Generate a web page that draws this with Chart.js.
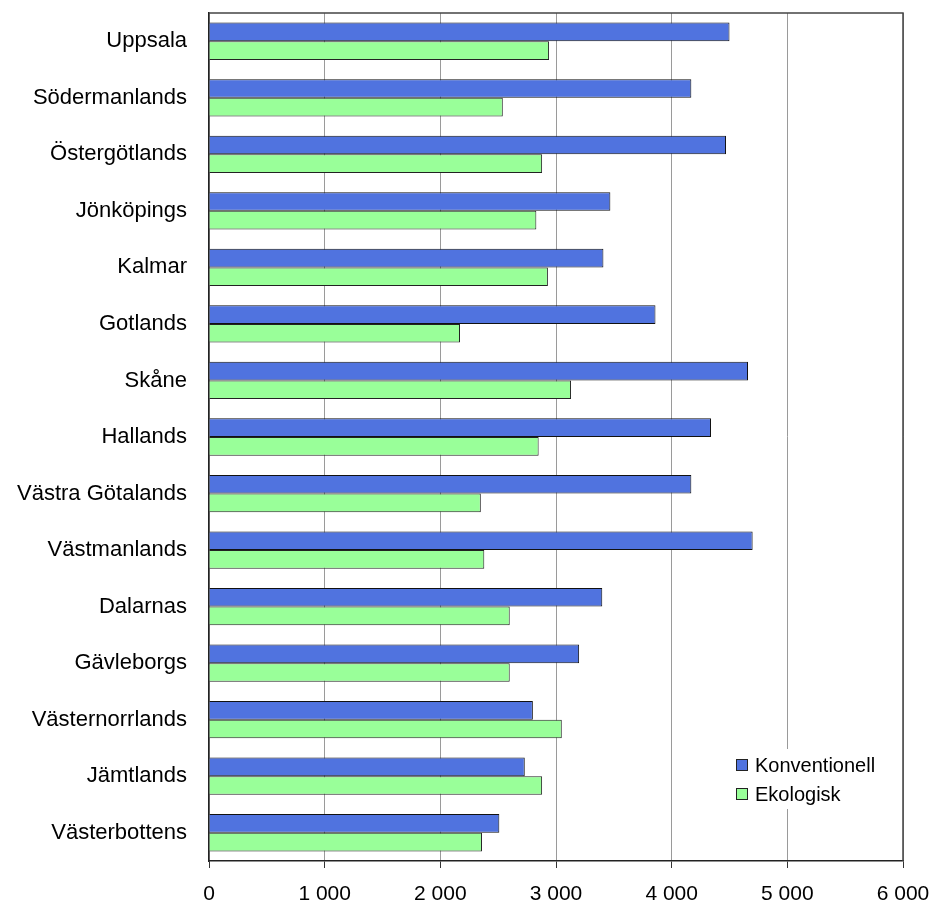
<!DOCTYPE html>
<html>
<head>
<meta charset="utf-8">
<script src="https://cdn.jsdelivr.net/npm/chart.js@4.4.1/dist/chart.umd.min.js"></script>
<style>
html,body{margin:0;padding:0;background:#fff}
#wrap{width:933px;height:906px}
</style>
</head>
<body>
<div id="wrap"><canvas id="c"></canvas></div>
<script>
// län och värden
const lan=['Uppsala','Södermanlands','Östergötlands','Jönköpings','Kalmar','Gotlands','Skåne','Hallands','Västra Götalands','Västmanlands','Dalarnas','Gävleborgs','Västernorrlands','Jämtlands','Västerbottens'];
const konventionell=[4500,4170,4470,3470,3410,3860,4660,4340,4170,4700,3400,3200,2800,2730,2510];
const ekologisk=[2940,2540,2880,2830,2930,2170,3130,2850,2350,2380,2600,2600,3050,2880,2360];
const xTicks=[0,1000,2000,3000,4000,5000,6000];

const fmt=v=>String(v).replace(/\B(?=(\d{3})+(?!\d))/g,' ');
const FONT='"Liberation Sans", Arial, sans-serif';

// ram runt ritytan + legend inne i diagrammet
const framePlugin={
  id:'frame',
  afterDraw(chart){
    const {ctx,chartArea:a}=chart;
    ctx.save();
    ctx.strokeStyle='#444';ctx.lineWidth=1.5;
    ctx.beginPath();
    ctx.moveTo(a.left,a.top);ctx.lineTo(a.right,a.top);ctx.lineTo(a.right,a.bottom);
    ctx.stroke();
    // legend
    const lx=a.right-167,ly=a.bottom-112;
    ctx.fillStyle='#fff';ctx.fillRect(lx-8,ly,162,60);
    ctx.font='20px '+FONT;ctx.textBaseline='middle';
    chart.data.datasets.forEach((ds,i)=>{
      const y=ly+16+i*29;
      ctx.fillStyle=ds.backgroundColor;ctx.fillRect(lx,y-6,12,12);
      ctx.strokeStyle='#222';ctx.lineWidth=1;ctx.strokeRect(lx+0.5,y-5.5,11,11);
      ctx.fillStyle='#000';ctx.fillText(ds.label,lx+19,y+1);
    });
    ctx.restore();
  }
};

new Chart(document.getElementById('c'),{
  type:'bar',
  data:{labels:lan,datasets:[
    {label:'Konventionell',data:konventionell,backgroundColor:'#5073df',borderColor:'#111',borderWidth:1,categoryPercentage:0.66,barPercentage:1.0},
    {label:'Ekologisk',data:ekologisk,backgroundColor:'#99ff99',borderColor:'#222',borderWidth:1,categoryPercentage:0.66,barPercentage:1.0}
  ]},
  options:{
    indexAxis:'y',responsive:true,maintainAspectRatio:false,animation:false,
    layout:{padding:{top:13,right:30,left:0,bottom:0}},
    plugins:{legend:{display:false},tooltip:{enabled:false}},
    scales:{
      x:{min:0,max:6000,
        afterBuildTicks(s){s.ticks=xTicks.map(v=>({value:v}));},
        afterFit(s){s.height=45;s.paddingLeft=0;s.paddingRight=0;},
        grid:{color:'#9a9a9a',lineWidth:1,tickLength:7,tickColor:'#333'},
        border:{color:'#222',width:1.5},
        ticks:{color:'#000',font:{family:FONT,size:21},padding:14,callback:v=>fmt(v)}
      },
      y:{
        afterFit(s){s.width=209;s.paddingTop=0;s.paddingBottom=0;},
        grid:{display:false},
        border:{color:'#222',width:1.5},
        ticks:{color:'#000',font:{family:FONT,size:22},padding:14}
      }
    }
  },
  plugins:[framePlugin]
});
</script>
</body>
</html>
